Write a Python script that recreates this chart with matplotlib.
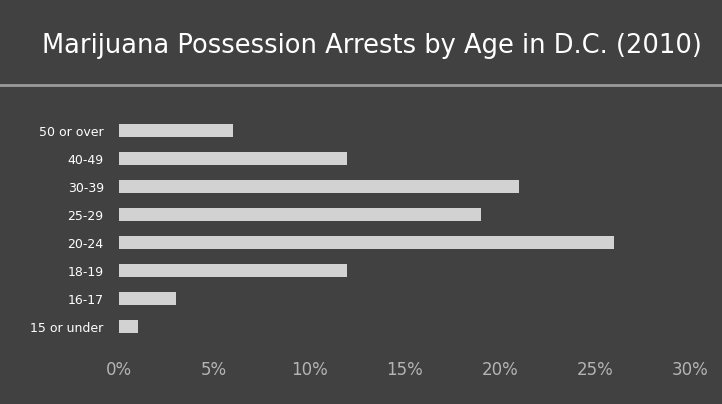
import numpy as np
import matplotlib
matplotlib.use("Agg")
import matplotlib.pyplot as plt
from matplotlib.lines import Line2D

# age groups, bottom to top as drawn
ages = ["15 or under", "16-17", "18-19", "20-24", "25-29", "30-39", "40-49", "50 or over"]
share = [1, 3, 12, 26, 19, 21, 12, 6]  # percent of arrests
ticks = [0, 5, 10, 15, 20, 25, 30]

bg = "#414141"
bar_color = "#d2d2d2"

fig = plt.figure(figsize=(7.22, 4.04), dpi=100, facecolor=bg)
ax = fig.add_axes([0.1648, 0.157, 0.791, 0.5545], facecolor=bg)

y = np.arange(len(ages))
ax.barh(y, share, height=0.46, color=bar_color, edgecolor="none")

ax.set_xlim(0, 30)
ax.set_ylim(-0.5, len(ages) - 0.5)
ax.set_yticks(y)
ax.set_yticklabels(ages, color="white", fontsize=9)
ax.set_xticks(ticks)
ax.set_xticklabels(["{}%".format(t) for t in ticks], color="#b4b4b4", fontsize=12)
ax.tick_params(axis="y", length=0, pad=11)
ax.tick_params(axis="x", length=0, pad=15)
for s in ax.spines.values():
    s.set_visible(False)

fig.text(0.515, 0.886, "Marijuana Possession Arrests by Age in D.C. (2010)",
         ha="center", va="center", color="white", fontsize=18.5)

# separator under the title
fig.add_artist(Line2D([0, 1], [1 - 85 / 404, 1 - 85 / 404], transform=fig.transFigure,
                      color="#9a9a9a", linewidth=2))

fig.savefig("out.png", dpi=100, facecolor=bg)
